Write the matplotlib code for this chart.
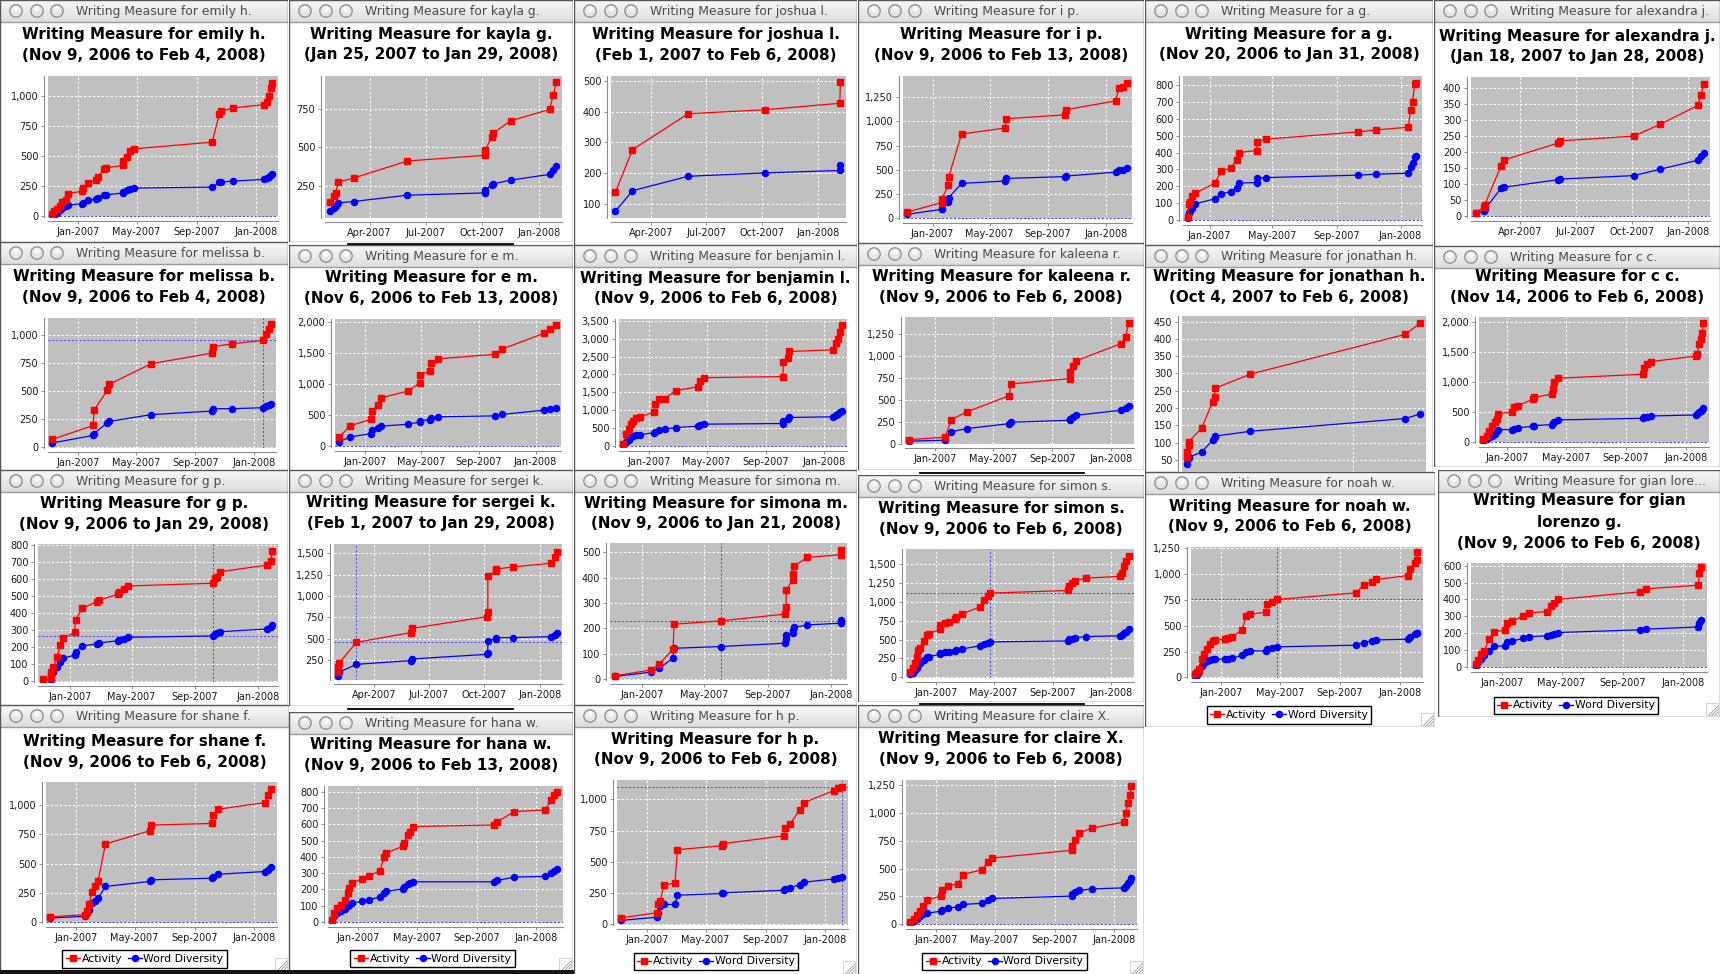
import datetime as dt
import numpy as np
import matplotlib
matplotlib.use("Agg")
import matplotlib.pyplot as plt
import matplotlib.dates as mdates
from matplotlib.ticker import MultipleLocator, FuncFormatter
from matplotlib.lines import Line2D
from matplotlib.patches import Rectangle, Circle

plt.rcParams['font.family'] = ['DejaVu Sans']

# ---------------- data (days counted from 2007-01-01) ----------------
emily_days = [-53, -49, -44, -38, -34, -26, -21, 8, 10, 20, 37, 41, 53, 58, 91, 93, 101, 106, 115, 275, 290, 293, 318, 382, 388, 392, 395, 399]
emily_activity = [22, 44, 63, 83, 119, 138, 188, 210, 235, 276, 304, 326, 395, 403, 423, 459, 497, 541, 561, 616, 851, 873, 900, 928, 947, 1003, 1066, 1105]
emily_diversity = [8, 15, 30, 50, 72, 90, 94, 105, 108, 133, 144, 152, 174, 180, 193, 200, 215, 225, 235, 243, 282, 285, 293, 307, 315, 331, 340, 348]

kayla_days = [25, 33, 35, 39, 64, 151, 277, 278, 288, 291, 319, 382, 388, 393]
kayla_activity = [143, 187, 202, 274, 300, 411, 448, 485, 567, 593, 672, 746, 839, 922]
kayla_diversity = [85, 108, 120, 139, 148, 189, 204, 224, 256, 263, 287, 324, 350, 376]

joshua_days = [31, 59, 151, 278, 401, 402]
joshua_activity = [137, 276, 393, 406, 427, 495]
joshua_diversity = [75, 142, 189, 200, 208, 227]

ip_days = [-53, 19, 20, 33, 34, 61, 153, 154, 279, 280, 385, 392, 400, 408]
ip_activity = [65, 161, 202, 339, 428, 870, 932, 1027, 1068, 1120, 1212, 1342, 1353, 1400]
ip_diversity = [41, 92, 100, 168, 212, 360, 384, 411, 430, 435, 476, 497, 503, 514]

ag_days = [-42, -39, -38, -34, -27, 10, 22, 41, 52, 56, 90, 91, 107, 283, 318, 380, 384, 388, 392, 395]
ag_activity = [18, 97, 110, 140, 160, 219, 288, 311, 357, 400, 412, 465, 479, 522, 534, 550, 652, 701, 806, 814]
ag_diversity = [10, 41, 57, 71, 97, 126, 156, 169, 189, 220, 222, 248, 252, 266, 272, 278, 317, 337, 376, 380]

alexandra_days = [17, 31, 32, 59, 64, 152, 155, 277, 320, 382, 386, 392]
alexandra_activity = [10, 28, 35, 157, 175, 227, 234, 249, 286, 345, 377, 412]
alexandra_diversity = [10, 15, 21, 87, 90, 113, 115, 126, 146, 174, 186, 196]

melissa_days = [-53, 32, 33, 61, 65, 152, 278, 279, 320, 384, 390, 395, 399]
melissa_activity = [68, 193, 327, 506, 560, 744, 839, 893, 923, 952, 1012, 1057, 1101]
melissa_diversity = [36, 104, 119, 217, 229, 289, 321, 342, 342, 351, 363, 372, 387]

em_days = [-56, -33, 12, 14, 26, 34, 92, 117, 118, 138, 140, 155, 279, 293, 384, 396, 408]
em_activity = [150, 328, 435, 565, 661, 780, 887, 1022, 1145, 1215, 1333, 1403, 1478, 1559, 1817, 1882, 1952]
em_diversity = [70, 150, 204, 258, 301, 323, 355, 392, 409, 430, 462, 473, 489, 511, 581, 602, 618]

benjamin_days = [-53, -48, -42, -38, -32, -26, -19, 10, 12, 22, 33, 56, 103, 106, 114, 279, 280, 289, 292, 384, 390, 393, 397, 401]
benjamin_activity = [75, 354, 494, 616, 709, 774, 821, 942, 1175, 1306, 1325, 1549, 1660, 1819, 1912, 1940, 2360, 2453, 2640, 2687, 2873, 2985, 3181, 3386]
benjamin_diversity = [28, 121, 187, 261, 299, 308, 317, 382, 401, 466, 476, 522, 560, 597, 616, 634, 709, 756, 802, 821, 868, 896, 942, 989]

kaleena_days = [-53, 21, 34, 66, 154, 157, 279, 280, 287, 293, 385, 395, 401]
kaleena_activity = [45, 72, 273, 360, 545, 678, 739, 811, 886, 943, 1136, 1212, 1371]
kaleena_diversity = [27, 38, 136, 170, 227, 242, 265, 284, 307, 322, 379, 402, 432]

jonathan_days = [276, 276, 277, 277, 284, 290, 291, 291, 310, 393, 401]
jonathan_activity = [58, 74, 93, 103, 142, 219, 233, 257, 298, 413, 445]
jonathan_diversity = [38, 52, 55, 58, 73, 108, 116, 119, 133, 170, 183]

cc_days = [-48, -41, -36, -30, -24, -20, -19, 10, 14, 23, 53, 56, 92, 93, 96, 105, 278, 280, 286, 293, 386, 388, 392, 395, 398, 401]
cc_activity = [44, 110, 193, 265, 331, 387, 470, 508, 580, 608, 718, 746, 801, 884, 1006, 1066, 1133, 1243, 1298, 1343, 1436, 1475, 1630, 1713, 1823, 1989]
cc_diversity = [22, 55, 83, 110, 138, 177, 210, 210, 221, 238, 265, 276, 293, 320, 343, 370, 398, 414, 425, 436, 453, 470, 497, 514, 536, 564]

gp_days = [-53, -37, -36, -32, -25, -19, -13, 9, 11, 24, 52, 57, 93, 95, 106, 113, 278, 281, 286, 292, 383, 390, 393]
gp_activity = [10, 16, 55, 84, 139, 212, 251, 286, 359, 427, 467, 476, 510, 522, 541, 559, 575, 604, 614, 643, 682, 708, 765]
gp_diversity = [2, 6, 35, 55, 84, 114, 133, 153, 173, 206, 218, 224, 237, 241, 249, 257, 265, 276, 284, 290, 306, 316, 329]

sergei_days = [31, 31, 32, 61, 151, 154, 278, 279, 279, 292, 293, 321, 383, 391, 393]
sergei_activity = [113, 172, 211, 457, 570, 621, 758, 816, 1234, 1293, 1316, 1340, 1383, 1453, 1519]
sergei_diversity = [62, 94, 105, 199, 242, 262, 316, 336, 477, 496, 512, 512, 523, 543, 562]

simona_days = [-53, 18, 33, 60, 62, 152, 277, 278, 279, 291, 292, 293, 319, 384, 385]
simona_activity = [13, 37, 59, 118, 217, 230, 257, 284, 353, 392, 414, 445, 480, 491, 511]
simona_diversity = [11, 28, 43, 83, 122, 129, 142, 158, 175, 184, 195, 204, 214, 221, 234]

simon_days = [-53, -48, -44, -40, -37, -33, -25, -18, -14, 8, 9, 19, 28, 40, 43, 55, 91, 101, 108, 112, 276, 277, 284, 290, 313, 383, 388, 392, 396, 401]
simon_activity = [66, 119, 186, 274, 363, 385, 487, 562, 575, 637, 695, 717, 739, 770, 796, 841, 929, 1027, 1071, 1115, 1150, 1204, 1248, 1279, 1314, 1336, 1381, 1469, 1544, 1611]
simon_diversity = [44, 62, 97, 119, 164, 186, 230, 265, 274, 305, 319, 332, 341, 350, 358, 376, 416, 442, 460, 469, 482, 504, 513, 527, 540, 549, 562, 584, 606, 637]

noah_days = [-53, -50, -45, -40, -35, -29, -24, -18, -13, 8, 13, 22, 42, 51, 58, 92, 93, 103, 113, 276, 291, 308, 317, 382, 386, 395, 400, 401]
noah_activity = [32, 48, 80, 176, 224, 272, 320, 353, 362, 369, 385, 391, 458, 593, 609, 631, 705, 731, 753, 817, 897, 923, 946, 984, 1051, 1106, 1138, 1208]
noah_diversity = [16, 26, 48, 112, 135, 154, 167, 176, 176, 176, 178, 183, 215, 247, 256, 256, 272, 282, 295, 311, 337, 353, 362, 369, 394, 417, 426, 433]

gian_days = [-53, -49, -41, -35, -26, -15, 7, 10, 21, 43, 55, 91, 98, 105, 112, 277, 290, 395, 397, 401]
gian_activity = [20, 45, 78, 98, 166, 211, 219, 260, 271, 303, 322, 328, 361, 381, 400, 445, 463, 484, 557, 592]
gian_diversity = [10, 29, 49, 74, 98, 123, 127, 150, 156, 170, 180, 186, 189, 197, 205, 221, 225, 238, 264, 279]

shane_days = [-53, 17, 23, 26, 32, 38, 45, 60, 151, 154, 279, 281, 292, 388, 394, 401]
shane_activity = [43, 63, 91, 156, 253, 304, 355, 668, 781, 830, 844, 915, 966, 1023, 1085, 1136]
shane_diversity = [34, 48, 77, 99, 162, 176, 205, 304, 347, 361, 375, 389, 409, 432, 446, 474]

hana_days = [-53, -49, -43, -35, -28, -22, -19, -13, 8, 21, 44, 53, 57, 92, 94, 101, 106, 113, 278, 285, 320, 383, 395, 402, 408]
hana_activity = [14, 55, 86, 106, 137, 178, 208, 239, 263, 280, 316, 398, 422, 467, 488, 535, 555, 586, 596, 616, 678, 688, 749, 780, 800]
hana_diversity = [4, 35, 55, 65, 80, 96, 106, 116, 127, 137, 153, 178, 188, 204, 218, 233, 239, 247, 247, 255, 276, 280, 300, 314, 324]

hp_days = [-53, 21, 22, 27, 34, 57, 62, 154, 155, 281, 282, 293, 313, 322, 383, 391, 401]
hp_activity = [53, 93, 159, 186, 313, 332, 597, 629, 645, 708, 769, 801, 915, 973, 1069, 1088, 1101]
hp_diversity = [32, 58, 93, 146, 159, 159, 233, 247, 252, 273, 284, 292, 318, 337, 363, 371, 379]

claire_days = [-53, -45, -40, -34, -27, -19, 9, 11, 24, 45, 55, 94, 106, 115, 278, 279, 285, 293, 319, 385, 389, 394, 398, 401]
claire_activity = [21, 51, 80, 119, 164, 217, 253, 307, 342, 366, 446, 491, 557, 595, 664, 699, 759, 818, 863, 917, 1003, 1092, 1161, 1241]
claire_diversity = [9, 30, 51, 74, 89, 98, 119, 128, 143, 158, 179, 188, 217, 232, 253, 268, 289, 304, 318, 327, 348, 372, 393, 417]

series_labels = ["Activity", "Word Diversity"]

# ---------------- chart definitions ----------------
CHARTS = [
    dict(name="emily h.", period="(Nov 9, 2006 to Feb 4, 2008)", days=emily_days, act=emily_activity, div=emily_diversity,
         ylim=(-5, 1165), step=250, months=(1, 5, 9), cross=None,
         win=(0, 0, 288, 242), plot=(48, 76, 278, 217), ty=(35, 55), legend=None),
    dict(name="kayla g.", period="(Jan 25, 2007 to Jan 29, 2008)", days=kayla_days, act=kayla_activity, div=kayla_diversity,
         ylim=(41, 963), step=250, months=(1, 4, 7, 10), cross=None,
         win=(289, 0, 573, 242), plot=(325, 76, 562, 218), ty=(35, 55), legend=None),
    dict(name="joshua l.", period="(Feb 1, 2007 to Feb 6, 2008)", days=joshua_days, act=joshua_activity, div=joshua_diversity,
         ylim=(53, 516), step=100, months=(1, 4, 7, 10), cross=None,
         win=(574, 0, 857, 245), plot=(611, 76, 846, 218), ty=(35, 55), legend=None),
    dict(name="i p.", period="(Nov 9, 2006 to Feb 13, 2008)", days=ip_days, act=ip_activity, div=ip_diversity,
         ylim=(-8, 1469), step=250, months=(1, 5, 9), cross=None,
         win=(858, 0, 1144, 243), plot=(903, 76, 1132, 219), ty=(35, 55), legend=None),
    dict(name="a g.", period="(Nov 20, 2006 to Jan 31, 2008)", days=ag_days, act=ag_activity, div=ag_diversity,
         ylim=(-5, 853), step=100, months=(1, 5, 9), cross=None,
         win=(1145, 0, 1433, 245), plot=(1183, 76, 1422, 221), ty=(35, 55), legend=None),
    dict(name="alexandra j.", period="(Jan 18, 2007 to Jan 28, 2008)", days=alexandra_days, act=alexandra_activity, div=alexandra_diversity,
         ylim=(-3, 433), step=50, months=(1, 4, 7, 10), cross=None,
         win=(1434, 0, 1720, 246), plot=(1471, 77, 1710, 217), ty=(37, 57), legend=None),
    dict(name="melissa b.", period="(Nov 9, 2006 to Feb 4, 2008)", days=melissa_days, act=melissa_activity, div=melissa_diversity,
         ylim=(-9, 1152), step=250, months=(1, 5, 9), cross=("act", 9),
         win=(0, 242, 288, 470), plot=(48, 318, 276, 448), ty=(277, 298), legend=None),
    dict(name="e m.", period="(Nov 6, 2006 to Feb 13, 2008)", days=em_days, act=em_activity, div=em_diversity,
         ylim=(-11, 2043), step=500, months=(1, 5, 9), cross=None,
         win=(289, 245, 573, 470), plot=(335, 319, 561, 447), ty=(278, 299), legend=None),
    dict(name="benjamin l.", period="(Nov 9, 2006 to Feb 6, 2008)", days=benjamin_days, act=benjamin_activity, div=benjamin_diversity,
         ylim=(-20, 3545), step=500, months=(1, 5, 9), cross=None,
         win=(574, 245, 857, 470), plot=(619, 319, 847, 447), ty=(279, 299), legend=None),
    dict(name="kaleena r.", period="(Nov 9, 2006 to Feb 6, 2008)", days=kaleena_days, act=kaleena_activity, div=kaleena_diversity,
         ylim=(-5, 1440), step=250, months=(1, 5, 9), cross=None,
         win=(858, 243, 1144, 470), plot=(905, 317, 1134, 444), ty=(277, 297), legend=None),
    dict(name="jonathan h.", period="(Oct 4, 2007 to Feb 6, 2008)", days=jonathan_days, act=jonathan_activity, div=jonathan_diversity,
         ylim=(4, 466), step=50, months=(1, 4, 7, 10), cross=None, hide_x=True,
         win=(1145, 245, 1433, 472), plot=(1182, 316, 1426, 476), ty=(276, 297), legend=None),
    dict(name="c c.", period="(Nov 14, 2006 to Feb 6, 2008)", days=cc_days, act=cc_activity, div=cc_diversity,
         ylim=(-15, 2088), step=500, months=(1, 5, 9), cross=None,
         win=(1434, 246, 1720, 467), plot=(1479, 317, 1709, 443), ty=(277, 297), legend=None),
    dict(name="g p.", period="(Nov 9, 2006 to Jan 29, 2008)", days=gp_days, act=gp_activity, div=gp_diversity,
         ylim=(-6, 806), step=100, months=(1, 5, 9), cross=("div", 16),
         win=(0, 470, 288, 705), plot=(38, 544, 278, 682), ty=(503, 524), legend=None),
    dict(name="sergei k.", period="(Feb 1, 2007 to Jan 29, 2008)", days=sergei_days, act=sergei_activity, div=sergei_diversity,
         ylim=(15, 1609), step=250, months=(1, 4, 7, 10), cross=("act", 3),
         win=(289, 470, 573, 706), plot=(334, 544, 562, 680), ty=(503, 524), legend=None),
    dict(name="simona m.", period="(Nov 9, 2006 to Jan 21, 2008)", days=simona_days, act=simona_activity, div=simona_diversity,
         ylim=(-3, 537), step=100, months=(1, 5, 9), cross=("act", 5),
         win=(574, 470, 857, 705), plot=(610, 543, 847, 680), ty=(503, 523), legend=None),
    dict(name="simon s.", period="(Nov 9, 2006 to Feb 6, 2008)", days=simon_days, act=simon_activity, div=simon_diversity,
         ylim=(-9, 1699), step=250, months=(1, 5, 9), cross=("act", 19),
         win=(858, 475, 1144, 702), plot=(906, 549, 1134, 678), ty=(509, 530), legend=None),
    dict(name="noah w.", period="(Nov 9, 2006 to Feb 6, 2008)", days=noah_days, act=noah_activity, div=noah_diversity,
         ylim=(-6, 1260), step=250, months=(1, 5, 9), cross=("act", 18),
         win=(1145, 472, 1435, 727), plot=(1191, 547, 1423, 678), ty=(507, 527), legend=(1205, 704, 1373, 726)),
    dict(name="gian lorenzo g.", period="(Nov 9, 2006 to Feb 6, 2008)", days=gian_days, act=gian_activity, div=gian_diversity,
         ylim=(-4, 615), step=100, months=(1, 5, 9), cross=None, bar="Writing Measure for gian lore...",
         lines=["Writing Measure for gian", "lorenzo g.", "(Nov 9, 2006 to Feb 6, 2008)"],
         win=(1438, 470, 1720, 717), plot=(1471, 563, 1707, 668), ty=(501, 522, 543), legend=(1494, 695, 1658, 716)),
    dict(name="shane f.", period="(Nov 9, 2006 to Feb 6, 2008)", days=shane_days, act=shane_activity, div=shane_diversity,
         ylim=(-9, 1199), step=250, months=(1, 5, 9), cross=None,
         win=(0, 705, 289, 972), plot=(46, 782, 277, 923), ty=(741, 762), legend=(62, 948, 227, 970)),
    dict(name="hana w.", period="(Nov 9, 2006 to Feb 13, 2008)", days=hana_days, act=hana_activity, div=hana_diversity,
         ylim=(-6, 835), step=100, months=(1, 5, 9), cross=None,
         win=(289, 712, 573, 972), plot=(328, 786, 563, 923), ty=(745, 766), legend=(351, 948, 514, 969)),
    dict(name="h p.", period="(Nov 9, 2006 to Feb 6, 2008)", days=hp_days, act=hp_activity, div=hp_diversity,
         ylim=(-5, 1154), step=250, months=(1, 5, 9), cross=("act", 16),
         win=(574, 705, 857, 975), plot=(617, 780, 848, 925), ty=(739, 759), legend=(634, 951, 798, 972)),
    dict(name="claire X.", period="(Nov 9, 2006 to Feb 6, 2008)", days=claire_days, act=claire_activity, div=claire_diversity,
         ylim=(-6, 1295), step=250, months=(1, 5, 9), cross=None,
         win=(858, 705, 1144, 975), plot=(906, 780, 1137, 925), ty=(738, 759), legend=(922, 951, 1087, 972)),
]

# ---------------- drawing ----------------
W, H = 1720, 974
fig = plt.figure(figsize=(W / 100, H / 100), dpi=100)
fig.patch.set_facecolor('white')
BASE = dt.datetime(2007, 1, 1)
RED, BLUE = '#ff0000', '#0000ff'


def frect(x0, y0, x1, y1):
    return [x0 / W, 1 - y1 / H, (x1 - x0) / W, (y1 - y0) / H]


def to_dates(days):
    return [BASE + dt.timedelta(days=d) for d in days]


def draw_chart(spec, z):
    x0, y0, x1, y1 = spec['win']
    ax = fig.add_axes(frect(x0, y0, x1, y1), zorder=z)
    ax.axis('off')
    ax.add_patch(Rectangle((x0, y0), x1 - x0, y1 - y0, facecolor='white', edgecolor='none', zorder=0))
    bh = 22
    grad = np.linspace(0.965, 0.86, bh) + (np.arange(bh) % 2) * 0.018
    img = np.repeat(np.repeat(grad[:, None, None], 3, axis=2), 4, axis=1)
    ax.imshow(np.clip(img, 0, 1), extent=(x0, x1, y0 + bh, y0), aspect='auto', interpolation='nearest', zorder=1)
    ax.plot([x0, x1], [y0 + bh, y0 + bh], color='#9a9a9a', lw=1, zorder=2)
    for cx in (16, 37, 57):
        ax.add_patch(Circle((x0 + cx, y0 + bh / 2), 6.2, facecolor='#e6e6e6', edgecolor='#8a8a8a', lw=0.9, zorder=3))
        ax.add_patch(Circle((x0 + cx, y0 + bh / 2 - 2), 3.0, facecolor='#f7f7f7', edgecolor='none', zorder=3))
    bar = spec.get('bar', "Writing Measure for " + spec['name'])
    ax.text(x0 + 76, y0 + bh / 2 + 0.5, bar, fontsize=8.9, color='#4a4a4a', ha='left', va='center', zorder=4)
    lines = spec.get('lines', ["Writing Measure for " + spec['name'], spec['period']])
    for line, ty in zip(lines, spec['ty']):
        ax.text((x0 + x1) / 2, ty, line, fontsize=10.9, fontweight='bold', color='black', ha='center', va='center', zorder=4)
    ax.add_patch(Rectangle((x0, y0), x1 - x0, y1 - y0, facecolor='none', edgecolor='#555555', lw=1.0, zorder=5))
    if spec['legend'] is not None:
        gx, gy = x1 - 14, y1 - 14
        ax.add_patch(Rectangle((gx, gy), 12, 12, facecolor='none', edgecolor='#cccccc', lw=0.6, zorder=5))
        for k in (3, 6, 9):
            ax.plot([gx + 12 - k, gx + 12], [gy + 12, gy + 12 - k], color='#9a9a9a', lw=0.6, zorder=5)
    ax.set_xlim(x0, x1)
    ax.set_ylim(y1, y0)

    px0, py0, px1, py1 = spec['plot']
    pax = fig.add_axes(frect(px0, py0, px1, py1), zorder=z + 0.5)
    pax.set_facecolor('#c0c0c0')
    d = to_dates(spec['days'])
    pax.plot(d, spec['div'], color=BLUE, marker='o', ms=4.4, lw=0.9, zorder=3)
    pax.plot(d, spec['act'], color=RED, marker='s', ms=4.2, lw=0.9, zorder=4)
    n0, n1 = mdates.date2num(d[0]), mdates.date2num(d[-1])
    span = n1 - n0
    pax.set_xlim(n0 - 0.02 * span, n1 + 0.025 * span)
    pax.set_ylim(*spec['ylim'])
    pax.yaxis.set_major_locator(MultipleLocator(spec['step']))
    pax.yaxis.set_major_formatter(FuncFormatter(lambda v, p: f"{v:,.0f}"))
    pax.xaxis.set_major_locator(mdates.MonthLocator(bymonth=spec['months']))
    pax.xaxis.set_major_formatter(mdates.DateFormatter('%b-%Y'))
    pax.grid(True, color='white', lw=0.8, ls=(0, (2, 2)))
    pax.set_axisbelow(True)
    for s in ('top', 'right'):
        pax.spines[s].set_visible(False)
    for s in ('left', 'bottom'):
        pax.spines[s].set_position(('outward', 3))
        pax.spines[s].set_color('#8c8c8c')
        pax.spines[s].set_linewidth(0.8)
    pax.tick_params(labelsize=7, length=2, width=0.7, color='#8c8c8c', pad=2, labelcolor='#1a1a1a')
    if spec.get('hide_x'):
        # the x axis of this chart is hidden behind the window below it
        pax.tick_params(axis='x', labelbottom=False)
    if spec['cross'] is None:
        pax.axhline(0, color='#4040ff', lw=0.7, ls=(0, (2, 2)), zorder=2)
    else:
        key, i = spec['cross']
        pax.axhline(spec[key][i], color='#4040ff', lw=0.7, ls=(0, (2, 2)), zorder=2)
        pax.axvline(d[i], color='#4040ff', lw=0.7, ls=(0, (2, 2)), zorder=2)
    if spec['legend'] is not None:
        lx0, ly0, lx1, ly1 = spec['legend']
        handles = [Line2D([], [], color=RED, marker='s', ms=4.2, lw=1),
                   Line2D([], [], color=BLUE, marker='o', ms=4.4, lw=1)]
        leg = pax.legend(handles, series_labels, loc='center',
                         bbox_to_anchor=((lx0 + lx1) / 2 / W, 1 - (ly0 + ly1) / 2 / H),
                         bbox_transform=fig.transFigure, ncol=2, fontsize=7.8, frameon=True,
                         fancybox=False, edgecolor='black', framealpha=1, handlelength=1.3,
                         handletextpad=0.15, columnspacing=0.5, borderpad=0.35, borderaxespad=0)
        leg.get_frame().set_linewidth(1.0)


for idx, spec in enumerate(CHARTS):
    draw_chart(spec, 2 + idx)

# edges of windows hidden behind the others
for (a, b, y) in [(348, 513, 243.5), (920, 1084, 472.5), (920, 1084, 703.5), (348, 513, 708.5)]:
    fig.add_artist(Line2D([a / W, b / W], [1 - y / H, 1 - y / H], transform=fig.transFigure,
                          color='black', lw=1.3, zorder=100))
fig.add_artist(Rectangle((0, 0), 574 / W, 4 / H, transform=fig.transFigure,
                         facecolor='#151515', edgecolor='none', zorder=100))

fig.savefig('out.png', dpi=100, facecolor=fig.get_facecolor())
